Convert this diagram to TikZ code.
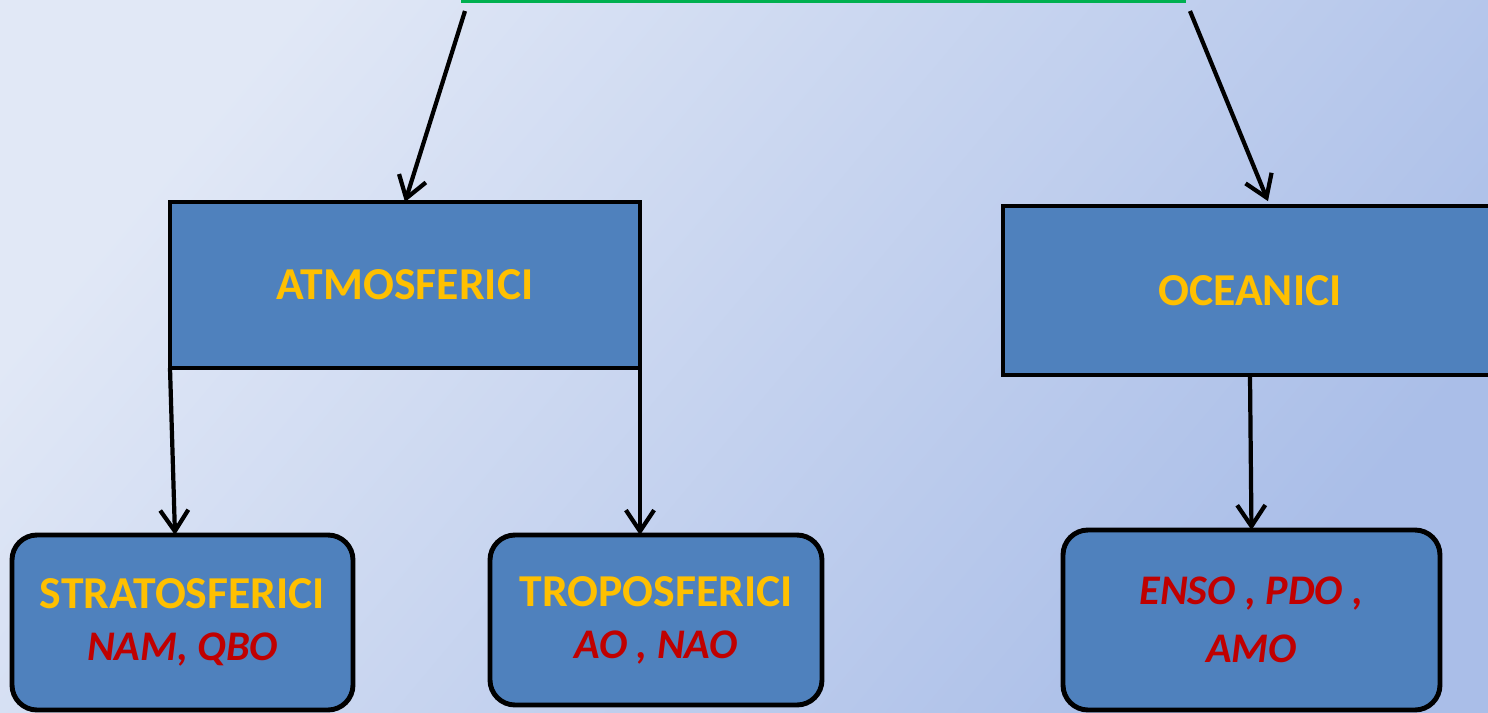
\documentclass[tikz,border=0pt]{standalone}
\usepackage{fontspec}
\setmainfont{Carlito}
\usepackage{xcolor}
\definecolor{bglight}{RGB}{225,232,246}
\definecolor{bgdark}{RGB}{170,190,232}
\definecolor{boxblue}{RGB}{79,129,189}
\definecolor{capyellow}{RGB}{255,192,0}
\definecolor{idxred}{RGB}{192,0,0}
\definecolor{rootgreen}{RGB}{0,176,80}
\usetikzlibrary{arrows.meta,calc}

\newcommand{\idxfont}{\fontsize{12}{14.5}\selectfont\bfseries\itshape}

\begin{document}
\begin{tikzpicture}[font=\fontsize{13}{14.8}\selectfont\bfseries,
    sqbox/.style={rectangle, fill=boxblue, draw=black, line width=1.4pt,
                  outer sep=0pt, text=capyellow},
    rndbox/.style={sqbox, rounded corners=0.25cm, align=center},
    link/.style={-{Straight Barb[length=6pt,width=8pt]}, line width=1.2pt}]
    % page and background
    \useasboundingbox (0,0) rectangle (14.88,7.12);
    \clip (0,0) rectangle (14.88,7.12);
    \shade[top color=bglight, bottom color=bgdark, shading angle=50]
      (0,0) rectangle (14.88,7.12);

    % top box, cut off by the page
    \node[rectangle, draw=rootgreen, line width=1.3pt, outer sep=0pt,
          minimum width=7.21cm, minimum height=1.5cm] (root) at (8.235,7.86) {};

    % second row
    \node[sqbox, minimum width=4.70cm, minimum height=1.66cm]
          (atmos) at (4.05,4.27) {ATMOSFERICI};
    \node[sqbox, minimum width=4.94cm, minimum height=1.69cm]
          (ocean) at (12.50,4.215) {OCEANICI};

    % bottom row
    \node[rndbox, minimum width=3.41cm, minimum height=1.75cm]
          (strato) at (1.825,0.895) {STRATOSFERICI\\\textcolor{idxred}{\idxfont NAM, QBO}};
    \node[rndbox, minimum width=3.32cm, minimum height=1.70cm]
          (tropo) at (6.56,0.92) {TROPOSFERICI\\\textcolor{idxred}{\idxfont AO , NAO}};
    \node[rndbox, minimum width=3.77cm, minimum height=1.80cm, text=idxred,
          font=\idxfont]
          (enso) at (12.515,0.92) {ENSO , PDO ,\\[2pt]AMO};

    % Arrows
    \draw[link] ($(root.south west)+(0.02,-0.10)$) -- (atmos.north);
    \draw[link, shorten >=1.5pt] ($(root.south east)+(0.06,-0.10)$) -- ([xshift=0.2cm]ocean.north);
    \draw[link] (atmos.south west) -- ([xshift=-0.075cm]strato.north);
    \draw[link] (atmos.south east) -- (atmos.south east |- tropo.north);
    \draw[link] (ocean.south) -- (enso.north);
\end{tikzpicture}
\end{document}
